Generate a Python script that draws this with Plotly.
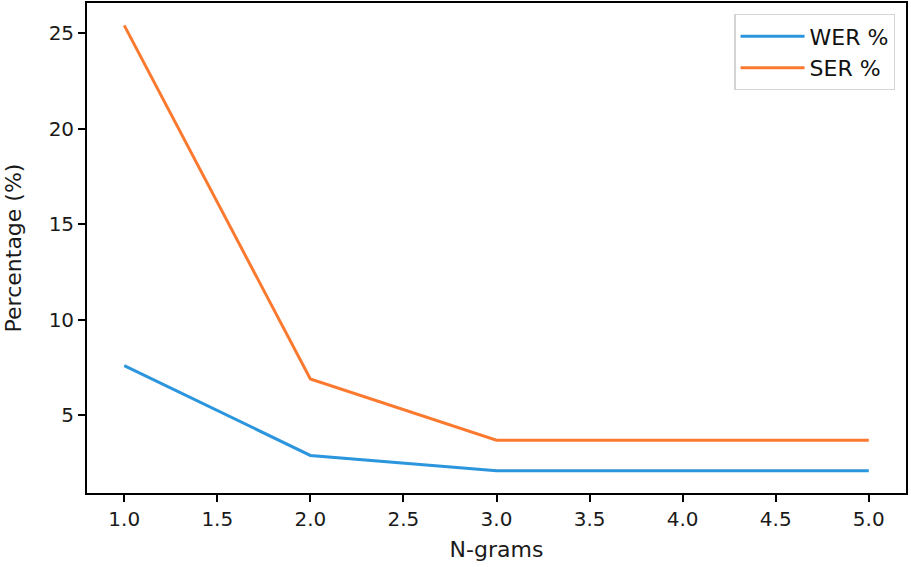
import plotly.graph_objects as go

ngrams = [1, 2, 3, 4, 5]
wer = [7.6, 2.9, 2.1, 2.1, 2.1]
ser = [25.4, 6.9, 3.7, 3.7, 3.7]
x_ticks = [1.0, 1.5, 2.0, 2.5, 3.0, 3.5, 4.0, 4.5, 5.0]
y_ticks = [5, 10, 15, 20, 25]

font = "DejaVu Sans"
fig = go.Figure()
fig.add_trace(go.Scatter(x=ngrams, y=wer, mode="lines", name="WER %",
                         line=dict(color="#2b95dd", width=3)))
fig.add_trace(go.Scatter(x=ngrams, y=ser, mode="lines", name="SER %",
                         line=dict(color="#fb7a30", width=3)))

axis_common = dict(showline=True, linecolor="black", linewidth=1.8, mirror=True,
                   showgrid=False, zeroline=False, ticks="outside", ticklen=7,
                   tickwidth=1.5, tickcolor="black", automargin=False,
                   tickfont=dict(family=font, size=20, color="#1a1a1a"))

fig.update_xaxes(range=[0.8, 5.2], tickvals=x_ticks,
                 ticktext=[f"{v:.1f}" for v in x_ticks],
                 title=dict(text="N-grams", font=dict(family=font, size=22, color="#1a1a1a"),
                            standoff=12),
                 **axis_common)
fig.update_yaxes(range=[0.935, 26.57], tickvals=y_ticks,
                 title=dict(text="Percentage (%)", font=dict(family=font, size=22, color="#1a1a1a"),
                            standoff=21),
                 **axis_common)

fig.update_layout(
    width=911, height=567,
    margin=dict(l=87, r=5, t=3, b=74),
    paper_bgcolor="white", plot_bgcolor="white",
    font=dict(family=font, size=20, color="#1a1a1a"),
    legend=dict(x=0.987, y=0.977, xanchor="right", yanchor="top",
                bgcolor="white", bordercolor="#d4d4d4", borderwidth=1.2,
                font=dict(family=font, size=22, color="#111"),
                itemwidth=64),
    showlegend=True,
)

fig.write_html("out.html", config={"displayModeBar": False},
               post_script="document.body.style.margin='0';document.body.style.padding='0';")
